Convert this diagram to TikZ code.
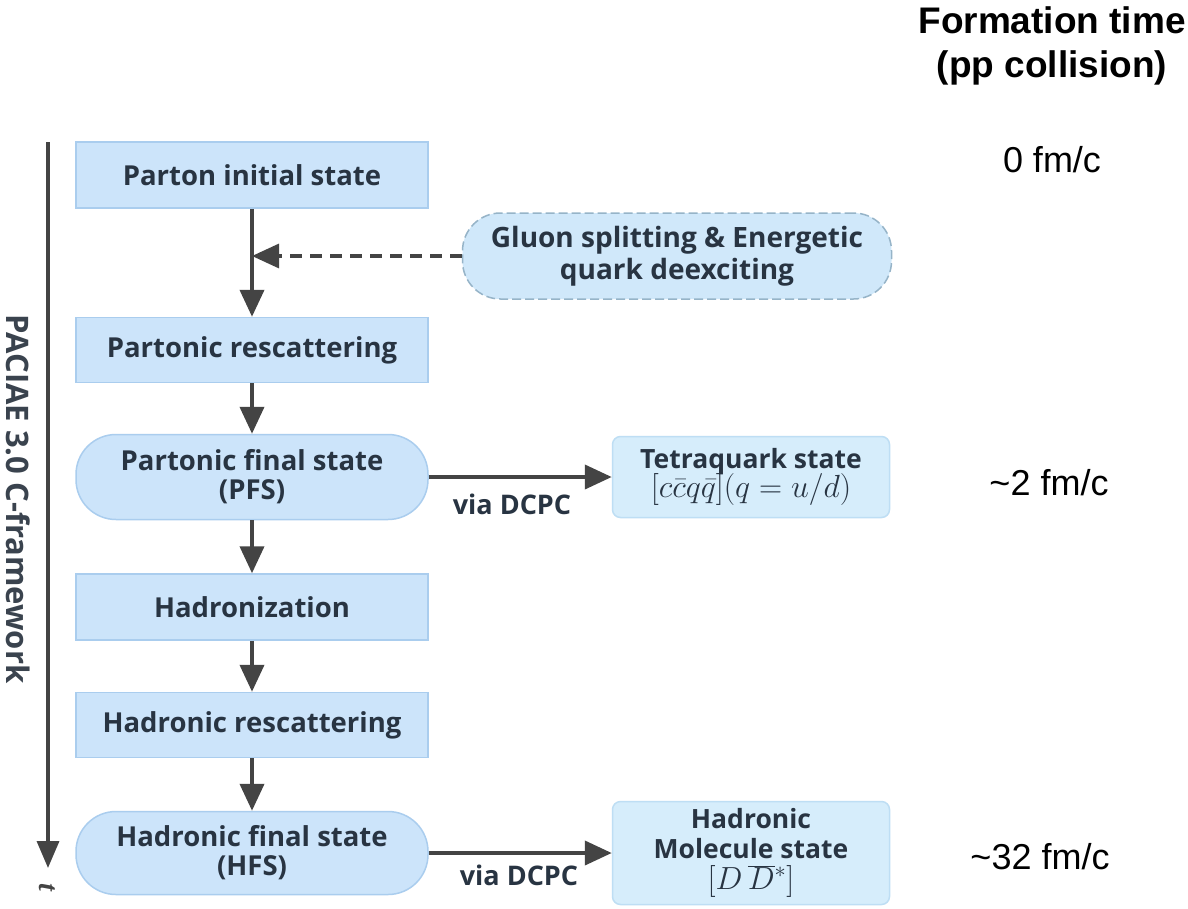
\RequirePackage{fix-cm}
\documentclass[tikz,border=0pt]{standalone}
\usepackage{fontspec}
\usetikzlibrary{arrows.meta}
\newfontfamily\ofont{Open Sans}
\newfontfamily\afont{Liberation Sans}
\newfontfamily\serfont{Liberation Serif}
\newcommand\mymathsize{\normalfont\fontsize{32}{34}\selectfont}
\definecolor{boxfill}{RGB}{204,228,250}
\definecolor{boxline}{RGB}{170,205,238}
\definecolor{tfill}{RGB}{214,237,251}
\definecolor{tline}{RGB}{190,222,244}
\definecolor{gfill}{RGB}{208,232,250}
\definecolor{gline}{RGB}{150,180,200}
\definecolor{txt}{RGB}{40,52,66}
\definecolor{arr}{RGB}{68,68,68}
\tikzset{
  box/.style={draw=boxline, fill=boxfill, line width=1.5pt, minimum width=352pt, inner sep=0pt,
    font=\ofont\bfseries\fontsize{27.5}{29}\selectfont, text=txt, align=center},
  pill/.style={box, rounded corners=40pt},
  sidebox/.style={draw=tline, fill=tfill, line width=1.5pt, minimum width=277pt, inner sep=0pt,
    rounded corners=8pt, font=\ofont\bfseries\fontsize{26.5}{30}\selectfont, text=txt, align=center},
  flow/.style={draw=arr, line width=4pt, -{Triangle[length=27pt,width=24pt]}},
  dflow/.style={draw=arr, line width=3.2pt, dash pattern=on 12pt off 8pt, -{Triangle[length=27pt,width=24pt]}},
  via/.style={font=\ofont\bfseries\fontsize{27}{28}\selectfont, text=txt},
  tlabel/.style={font=\afont\fontsize{36}{40}\selectfont, text=black},
}
\begin{document}
\begin{tikzpicture}[x=1pt,y=-1pt]
\useasboundingbox[fill=white] (0,0) rectangle (1188,908);

% main column
\node[box, minimum height=66pt] (pis) at (252,175) {Parton initial state};
\node[box, minimum height=65pt] (prs) at (252,350) {Partonic rescattering};
\node[pill, minimum height=85pt] (pfs) at (252,477) {Partonic final state\\(PFS)};
\node[box, minimum height=66pt] (had) at (252,607) {Hadronization};
\node[box, minimum height=65pt] (hrs) at (252,725) {Hadronic rescattering};
\node[pill, minimum height=83pt] (hfs) at (252,853) {Hadronic final state\\(HFS)};

% side boxes
\node[draw=gline, fill=gfill, line width=1.5pt, dash pattern=on 9pt off 4pt, rounded corners=38pt,
  minimum width=429pt, minimum height=86pt, inner sep=0pt,
  font=\ofont\bfseries\fontsize{28}{32}\selectfont, text=txt, align=center]
  (glu) at (677,256) {Gluon splitting \& Energetic\\quark deexciting};
\node[sidebox, minimum height=81pt] (tet) at (751,477)
  {Tetraquark state\\[-2pt]{\mymathsize$[c\bar{c}q\bar{q}](q=u/d)$}};
\node[sidebox, minimum height=103pt] (mol) at (751,853)
  {Hadronic\\Molecule state\\[1pt]{\mymathsize$[D\,\overline{D}{}^{*}]$}};

% connectors
\coordinate (join) at (252,256);
\draw[flow] (pis) -- (prs);
\draw[dflow] (glu.west |- join) -- (join);
\draw[flow] (prs) -- (pfs);
\draw[flow] (pfs) -- (had);
\draw[flow] (had) -- (hrs);
\draw[flow] (hrs) -- (hfs);
\draw[flow] (pfs.east) -- (tet.west |- pfs.east);
\draw[flow] (hfs.east) -- (mol.west |- hfs.east);
\node[via] (v1) at (512,504) {via DCPC};
\node[via] (v2) at (519,875) {via DCPC};

% time axis
\coordinate (ttop) at (48,142);
\coordinate (tbot) at (48,868);
\draw[draw=arr, line width=3.5pt, -{Triangle[length=27pt,width=22pt]}] (ttop) -- (tbot);
\node[rotate=-90, font=\serfont\bfseries\itshape\fontsize{28}{30}\selectfont, text=arr] (tlab) at (47,887) {t};
\node[rotate=-90, font=\ofont\bfseries\fontsize{31}{33}\selectfont, text=txt!80!gray] (fw) at (18,499) {PACIAE 3.0 C-framework};

% formation time column
\node[font=\afont\bfseries\fontsize{37}{44}\selectfont, align=center, text=black] (ft) at (1052,46) {Formation time\\(pp collision)};
\node[tlabel] (t0) at (1052,160) {0 fm/c};
\node[tlabel] (t2) at (1049,483) {\textasciitilde 2 fm/c};
\node[tlabel] (t32) at (1040,857) {\textasciitilde 32 fm/c};
\end{tikzpicture}
\end{document}
